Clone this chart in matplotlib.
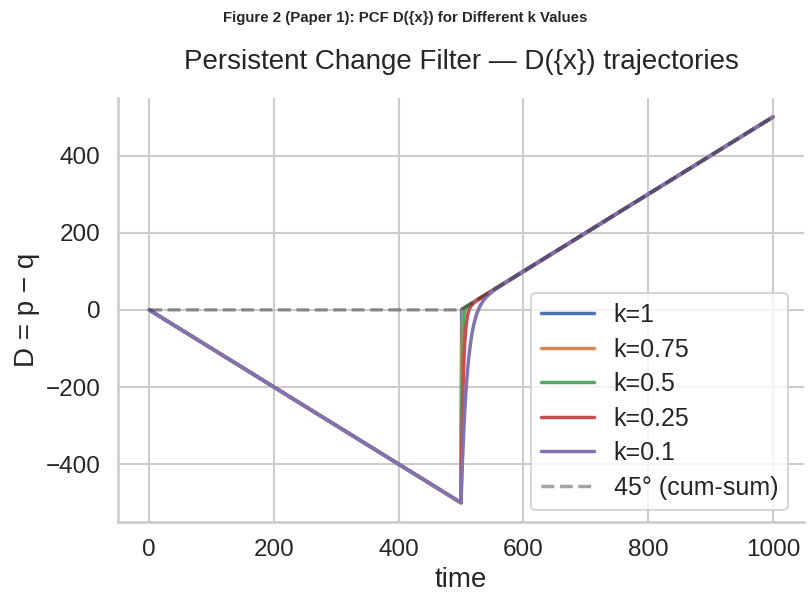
import matplotlib
matplotlib.use("Agg")
import matplotlib.pyplot as plt
import seaborn as sns

# readings from the chart (time, D) for each k; before t=500 all follow D = -t
k_labels = ["k=1", "k=0.75", "k=0.5", "k=0.25", "k=0.1"]

t_k1 = [0, 500, 501, 1000]
d_k1 = [0, -500, 1, 500]

t_k075 = [0, 500, 501, 502, 503, 504, 1000]
d_k075 = [0, -500, -124, -29, -5, 2, 500]

t_k05 = [0, 500, 501, 502, 503, 504, 505, 506, 507, 508, 510, 1000]
d_k05 = [0, -500, -250, -123, -60, -27, -11, -2, 3, 6, 10, 500]

t_k025 = [0, 500, 501, 502, 503, 504, 505, 506, 508, 510, 512, 515, 520, 525, 1000]
d_k025 = [0, -500, -374, -279, -208, -154, -114, -83, -42, -18, -4, 8, 18, 25, 500]

t_k01 = [0, 500, 502, 504, 506, 508, 510, 512, 515, 518, 521, 525, 530, 535, 540,
         550, 560, 570, 1000]
d_k01 = [0, -500, -403, -324, -260, -207, -164, -129, -88, -57, -34, -11, 9, 22, 33,
         47, 59, 70, 500]

t_cum = [0, 500, 1000]
d_cum = [0, 0, 500]

series_t = [t_k1, t_k075, t_k05, t_k025, t_k01]
series_d = [d_k1, d_k075, d_k05, d_k025, d_k01]

sns.set_theme(style="whitegrid", context="talk")
plt.rcParams["font.family"] = ["Liberation Sans", "DejaVu Sans"]

colors = sns.color_palette("deep")

fig = plt.figure(figsize=(8.11, 6.07), dpi=100)
ax = fig.add_axes([0.1455, 0.140, 0.846, 0.699])

for i in range(len(k_labels)):
    ax.plot(series_t[i], series_d[i], color=colors[i], lw=2.5, label=k_labels[i])
ax.plot(t_cum, d_cum, color="k", ls="--", lw=2.5, alpha=0.4, label="45° (cum-sum)")

ax.set_xlim(-50, 1050)
ax.set_ylim(-550, 550)
ax.set_xticks([0, 200, 400, 600, 800, 1000])
ax.set_yticks([-400, -200, 0, 200, 400])
ax.tick_params(labelsize=17.5)
ax.set_xlabel("time", fontsize=20)
ax.set_ylabel("D = p \u2212 q", fontsize=20)
ax.set_title("Persistent Change Filter \u2014 D({x}) trajectories", fontsize=20, pad=21)
ax.legend(loc="lower right", fontsize=18, labelspacing=0.42, handlelength=2.1,
          bbox_to_anchor=(0.995, 0.0))
sns.despine(ax=ax)

fig.suptitle("Figure 2 (Paper 1): PCF D({x}) for Different k Values",
             fontsize=10.8, fontweight="bold", y=0.982)

fig.savefig("out.png", dpi=100)
